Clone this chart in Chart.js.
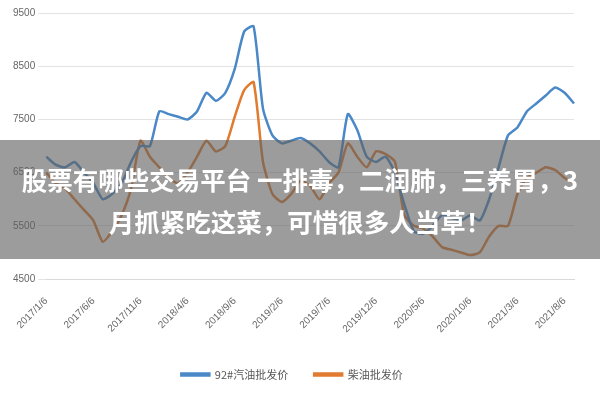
<!DOCTYPE html>
<html><head><meta charset="utf-8">
<script src="https://cdn.jsdelivr.net/npm/chart.js@4"></script>
<style>
body{margin:0;background:#fff;}
#wrap{position:relative;width:600px;height:400px;}
#ov{position:absolute;left:0;top:140px;width:600px;height:119px;background:rgba(95,95,95,0.62);color:#fff;font-family:"Noto Sans CJK SC";font-weight:bold;font-size:25.5px;line-height:42px;text-align:center;display:flex;align-items:center;justify-content:center;padding:0;box-sizing:border-box;white-space:nowrap;}
</style></head><body>
<div id="wrap"><canvas id="c" width="600" height="400"></canvas>
<div id="ov"><div>股票有哪些交易平台 一排毒，二润肺，三养胃，3<br>月抓紧吃这菜，可惜很多人当草！</div></div></div>
<script>
const months=[];
for(let y=2017;y<=2021;y++)for(let m=1;m<=12;m++){if(y===2021&&m>9)break;months.push(y+'/'+m+'/6');}
const gasoline=[6800,6650,6600,6700,6500,6300,6000,6100,6300,6700,7000,7000,7650,7600,7550,7500,7650,8000,7850,8000,8450,9150,9250,7700,7200,7050,7100,7150,7050,6900,6700,6600,7600,7300,6800,6700,6800,6500,5900,5400,5350,5500,5700,5650,5600,5700,5600,6000,6600,7200,7350,7650,7800,7950,8100,8000,7800];
const diesel=[6500,6300,6200,6000,5800,5600,5200,5400,5700,6200,7100,6800,6600,6400,6300,6500,6800,7100,6900,7000,7550,8050,8200,6700,6100,5950,6100,6350,6250,6000,6300,6500,7050,6800,6600,6900,6850,6700,5700,5500,5450,5300,5100,5050,5000,4950,5000,5300,5500,5500,6100,6400,6500,6600,6550,6400,6300];
new Chart(document.getElementById('c'),{type:'line',
data:{labels:months,datasets:[
{label:'92#汽油批发价',data:gasoline,borderColor:'#4a88c8',backgroundColor:'#4a88c8',borderWidth:2.5,pointRadius:0,tension:0.2},
{label:'柴油批发价',data:diesel,borderColor:'#e07b30',backgroundColor:'#e07b30',borderWidth:2.5,pointRadius:0,tension:0.2}]},
options:{responsive:false,animation:false,
layout:{padding:{left:10,right:26,top:13,bottom:10}},
plugins:{legend:{position:'bottom',labels:{padding:26,boxWidth:28,boxHeight:2,color:'#555',font:{family:'Noto Sans CJK SC',size:11}}}},
scales:{
x:{grid:{display:false},border:{color:'#d9d9d9'},ticks:{autoSkip:false,maxRotation:45,minRotation:45,padding:8,color:'#666',font:{size:10},callback:function(v,i){return i%5===0?months[i]:null;}}},
y:{min:4500,max:9500,ticks:{stepSize:1000,color:'#666',font:{size:10},callback:v=>String(v)},grid:{color:'#e3e3e3'},border:{display:false}}}}});
</script></body></html>
